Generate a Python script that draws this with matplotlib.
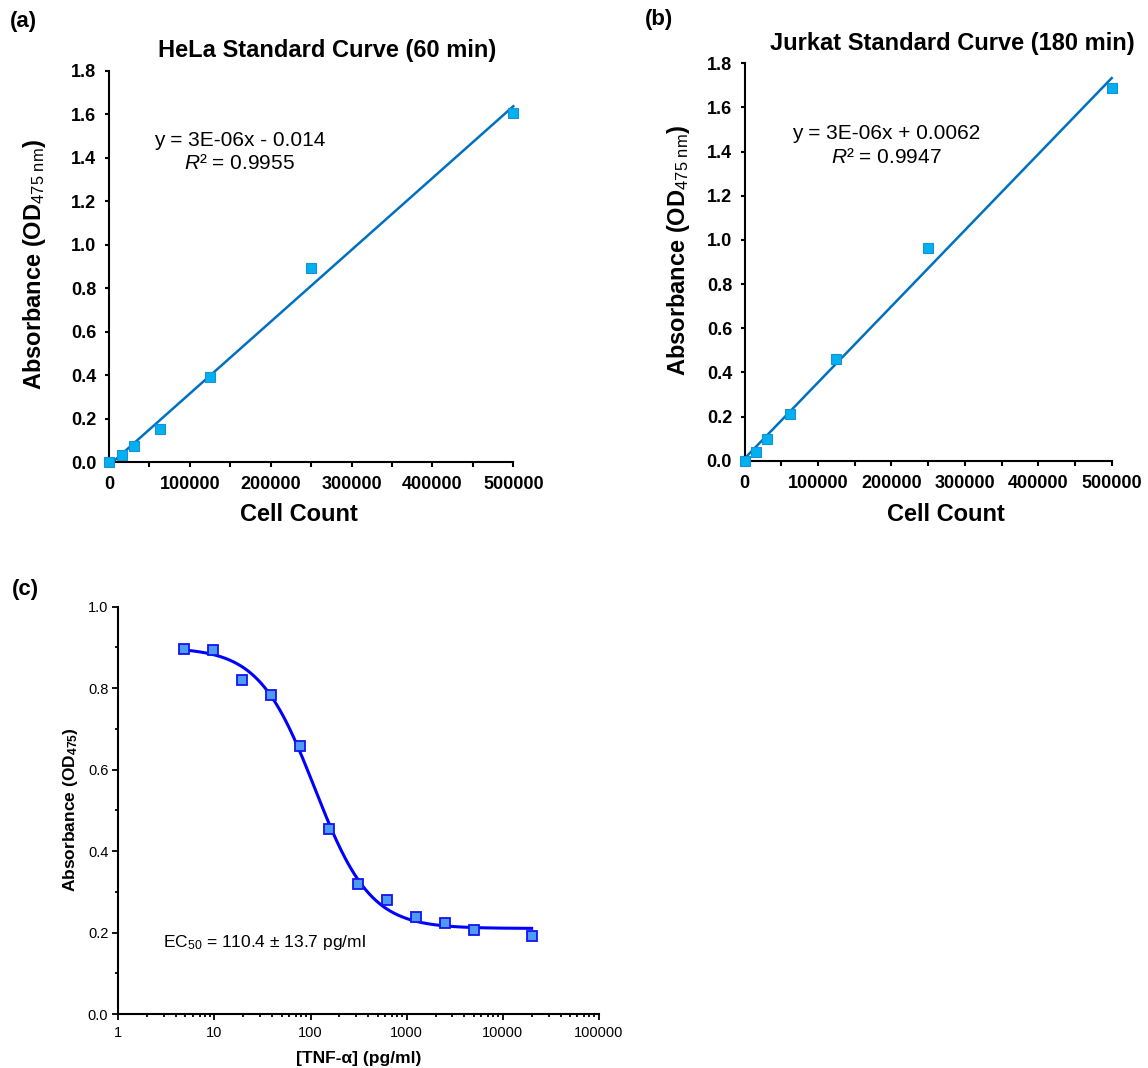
import numpy as np
import matplotlib.pyplot as plt
from matplotlib.ticker import MultipleLocator, LogLocator, NullFormatter, FixedLocator

plt.rcParams['font.family'] = ['Liberation Sans', 'DejaVu Sans']
plt.rcParams['mathtext.fontset'] = 'custom'
plt.rcParams['mathtext.rm'] = 'Liberation Sans'
plt.rcParams['mathtext.it'] = 'Liberation Sans:italic'
plt.rcParams['mathtext.bf'] = 'Liberation Sans:bold'

# (a) HeLa standard curve
cells = [0, 15625, 31250, 62500, 125000, 250000, 500000]
hela_abs = [0.0, 0.035, 0.075, 0.155, 0.39, 0.892, 1.604]
# (b) Jurkat standard curve
jurkat_abs = [0.0, 0.04, 0.10, 0.21, 0.46, 0.963, 1.686]
# (c) TNF-alpha dose response
tnf_conc = [4.88, 9.77, 19.53, 39.06, 78.13, 156.25, 312.5, 625, 1250, 2500, 5000, 20000]
tnf_abs = [0.896, 0.894, 0.820, 0.784, 0.658, 0.453, 0.319, 0.280, 0.239, 0.223, 0.207, 0.192]
# 4PL fit parameters
fit_top, fit_bottom, fit_ec50, fit_hill = 0.90, 0.21, 110.4, 1.5

W, H = 1148, 1068
fig = plt.figure(figsize=(W / 100, H / 100), dpi=100)


def px_axes(left, top, right, bottom):
    return fig.add_axes([left / W, 1 - bottom / H, (right - left) / W, (bottom - top) / H])


def std_panel(ax, y, title, title_x, eq, r2, eq_x, ylab_xy, xlab_x):
    x = np.array(cells, dtype=float)
    y = np.array(y)
    slope, icpt = np.polyfit(x, y, 1)
    xl = np.array([0, 500000])
    ax.plot(xl, slope * xl + icpt, color='#0070C0', lw=1.8, clip_on=False, zorder=2)
    ax.plot(x, y, 's', ms=7.8, mfc='#00B0F0', mec='#1A8FD6', mew=0.8, clip_on=False, zorder=3)
    ax.set_xlim(0, 500000)
    ax.set_ylim(0, 1.8)
    for s in ['top', 'right']:
        ax.spines[s].set_visible(False)
    for s in ['left', 'bottom']:
        ax.spines[s].set_linewidth(1.5)
    ax.yaxis.set_major_locator(MultipleLocator(0.2))
    ax.yaxis.set_major_formatter(plt.FuncFormatter(lambda v, p: f'{v:.1f}'))
    ax.xaxis.set_major_locator(MultipleLocator(100000))
    ax.xaxis.set_minor_locator(MultipleLocator(50000))
    ax.xaxis.set_major_formatter(plt.FuncFormatter(lambda v, p: f'{int(v)}'))
    ax.tick_params(which='both', direction='out', width=1.5, labelsize=13)
    ax.tick_params(axis='x', which='both', length=3.6, pad=6.5)
    ax.tick_params(axis='y', which='both', length=3, pad=6)
    for lab in ax.get_xticklabels() + ax.get_yticklabels():
        lab.set_fontweight('bold')
    ax.text(title_x, 1.0 + 20 / 392, title, transform=ax.transAxes, fontsize=17,
            fontweight='bold', ha='center', va='center')
    ax.set_xlabel('Cell Count', fontsize=17, fontweight='bold', labelpad=10)
    ax.xaxis.set_label_coords(xlab_x, -53 / 395, transform=ax.transAxes)
    ax.set_ylabel(r'Absorbance (OD$_{\mathrm{475\ nm}}$)', fontsize=17, fontweight='bold')
    ax.yaxis.set_label_coords(*ylab_xy)
    ax.yaxis.label.set_va('center')
    ax.xaxis.label.set_va('center')
    ax.text(eq_x, 1.48, eq, fontsize=15, ha='center', va='center')
    ax.text(eq_x, 1.372, r2, fontsize=15, ha='center', va='center')


ax_a = px_axes(109, 70.7, 513.3, 462.3)
std_panel(ax_a, hela_abs, 'HeLa Standard Curve (60 min)', 0.540, 'y = 3E-06x - 0.014',
          r'$\mathit{R}$² = 0.9955', 161400, (-0.1855, 0.506), 0.47)

ax_b = px_axes(744.5, 63.3, 1111.7, 460.7)
std_panel(ax_b, jurkat_abs, 'Jurkat Standard Curve (180 min)', 0.565, 'y = 3E-06x + 0.0062',
          r'$\mathit{R}$² = 0.9947', 192700, (-0.181, 0.529), 0.549)

# (c)
ax_c = px_axes(118.3, 606.7, 598.8, 1014)
xc = np.logspace(np.log10(tnf_conc[0]), np.log10(tnf_conc[-1]), 300)
yc = fit_bottom + (fit_top - fit_bottom) / (1 + (xc / fit_ec50) ** fit_hill)
ax_c.plot(xc, yc, color='#0000FF', lw=2.2, zorder=2)
ax_c.plot(tnf_conc, tnf_abs, 's', ms=7.5, mfc='#4D9BF5', mec='#1414F0', mew=1.3, zorder=3)
ax_c.set_xscale('log')
ax_c.set_xlim(1, 100000)
ax_c.set_ylim(0, 1.0)
for s in ['top', 'right']:
    ax_c.spines[s].set_visible(False)
for s in ['left', 'bottom']:
    ax_c.spines[s].set_linewidth(1.5)
ax_c.yaxis.set_major_locator(MultipleLocator(0.2))
ax_c.yaxis.set_minor_locator(MultipleLocator(0.1))
ax_c.yaxis.set_major_formatter(plt.FuncFormatter(lambda v, p: f'{v:.1f}'))
ax_c.xaxis.set_major_locator(FixedLocator([1, 10, 100, 1000, 10000, 100000]))
ax_c.xaxis.set_major_formatter(plt.FuncFormatter(lambda v, p: f'{int(round(v))}'))
ax_c.xaxis.set_minor_locator(LogLocator(base=10, subs=np.arange(2, 10), numticks=20))
ax_c.xaxis.set_minor_formatter(NullFormatter())
ax_c.tick_params(which='both', direction='out', width=1.3, labelsize=10.5)
ax_c.tick_params(which='major', length=4.2)
ax_c.tick_params(which='minor', length=2.2)
ax_c.tick_params(axis='y', pad=3)
ax_c.tick_params(axis='x', pad=4.5)
ax_c.set_xlabel('[TNF-α] (pg/ml)', fontsize=12.5, fontweight='bold')
ax_c.xaxis.set_label_coords(0.5, -44.3 / 407.3)
ax_c.xaxis.label.set_va('center')
ax_c.set_ylabel(r'Absorbance (OD$_{\mathbf{475}}$)', fontsize=12.5, fontweight='bold')
ax_c.yaxis.set_label_coords(-0.099, 0.502)
ax_c.yaxis.label.set_va('center')
ax_c.text(2.9, 0.175, r'EC$_{\mathrm{50}}$ = 110.4 ± 13.7 pg/ml', fontsize=12.5, ha='left', va='center')

fig.text(10 / W, 1 - 22 / H, '(a)', fontsize=16, fontweight='bold', va='center')
fig.text(645 / W, 1 - 20 / H, '(b)', fontsize=16, fontweight='bold', va='center')
fig.text(11.7 / W, 1 - 590 / H, '(c)', fontsize=16, fontweight='bold', va='center')

fig.savefig('out.png', dpi=100)
